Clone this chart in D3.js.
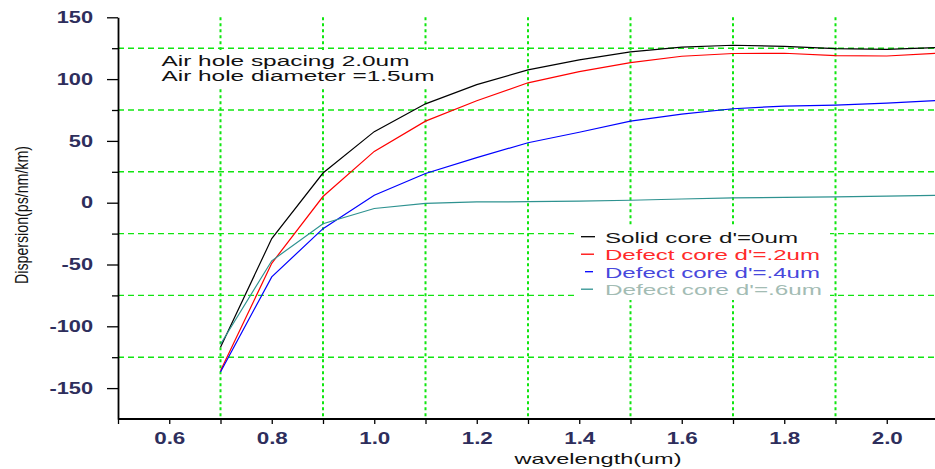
<!DOCTYPE html>
<html>
<head>
<meta charset="utf-8">
<script src="https://cdn.jsdelivr.net/npm/d3@7"></script>
<style>
  html, body { margin: 0; padding: 0; background: #fff; }
  svg { display: block; }
</style>
</head>
<body>
<svg id="chart" width="935" height="469"></svg>
<script>
// wavelength (um) sample points
const wavelength = [0.7, 0.8, 0.9, 1.0, 1.1, 1.2, 1.3, 1.4, 1.5, 1.6, 1.7, 1.8, 1.9, 2.0, 2.1];

// dispersion (ps/nm/km)
const solidCore = [-117, -29, 24, 57.5, 80, 95.5, 107.5, 115.5, 122, 125.8, 127.4, 126.5, 124.7, 124, 125.6];
const defect02  = [-136, -49, 5, 41.5, 66, 82.5, 97, 106, 113.4, 118.5, 120.7, 120.9, 119, 118.7, 121];
const defect04  = [-137, -60, -21, 6, 23.6, 36.5, 48.5, 57, 66, 71.6, 76, 78.2, 79, 80.5, 82.7];
const defect06  = [-114.5, -47, -17, -4.7, -0.5, 0.6, 0.8, 1.3, 2, 3, 3.9, 4.3, 4.7, 5.3, 6];

const seriesNames = ["Solid core d'=0um", "Defect core d'=.2um", "Defect core d'=.4um", "Defect core d'=.6um"];
const seriesValues = [solidCore, defect02, defect04, defect06];
const seriesColors = ['#000000', '#ff0000', '#0000ff', '#2e9290'];
const legendTextColors = ['#161616', '#ff2a2a', '#4848dc', '#a3bcb4'];

const xMajor = [0.6, 0.8, 1.0, 1.2, 1.4, 1.6, 1.8, 2.0];
const xAllTicks = [0.5, 0.6, 0.7, 0.8, 0.9, 1.0, 1.1, 1.2, 1.3, 1.4, 1.5, 1.6, 1.7, 1.8, 1.9, 2.0];
const xGrid = [0.7, 0.9, 1.1, 1.3, 1.5, 1.7, 1.9];
const yMajor = [-150, -100, -50, 0, 50, 100, 150];
const yGrid = [-125, -75, -25, 25, 75, 125];

const annotation = ['Air hole spacing 2.0um', 'Air hole diameter =1.5um'];

const svg = d3.select('#chart');
const x = d3.scaleLinear().domain([0.5, 2.1]).range([118, 938]);
const y = d3.scaleLinear().domain([-175, 150]).range([419, 17.3]);

const GREEN = '#10e610';
const LABEL = '#2e2e5c';

// grid
const grid = svg.append('g');
grid.selectAll('.vg').data(xGrid).enter().append('line')
  .attr('x1', d => x(d)).attr('x2', d => x(d))
  .attr('y1', y(150)).attr('y2', y(-175))
  .attr('stroke', GREEN).attr('stroke-width', 2).attr('stroke-dasharray', '3,3');
grid.selectAll('.hg').data(yGrid).enter().append('line')
  .attr('x1', x(0.5)).attr('x2', 935)
  .attr('y1', d => y(d)).attr('y2', d => y(d))
  .attr('stroke', GREEN).attr('stroke-width', 1.4).attr('stroke-dasharray', '6,4');

// curves
const line = d3.line()
  .x((d, i) => x(wavelength[i]))
  .y(d => y(d));
svg.append('g').selectAll('path')
  .data(seriesValues).enter().append('path')
  .attr('d', line)
  .attr('fill', 'none')
  .attr('stroke', (d, i) => seriesColors[i])
  .attr('stroke-width', 1.2);

// annotation box
const ann = svg.append('g');
ann.append('rect').attr('x', 155).attr('y', 50).attr('width', 285).attr('height', 38).attr('fill', '#fff');
const annWidths = [248, 273];
ann.selectAll('text').data(annotation).enter().append('text')
  .attr('x', 161.5)
  .attr('y', (d, i) => 65.7 + i * 15.4)
  .attr('textLength', (d, i) => annWidths[i])
  .attr('lengthAdjust', 'spacingAndGlyphs')
  .style('font-family', '"Liberation Sans", Arial, sans-serif')
  .style('font-size', '14px')
  .attr('fill', '#111')
  .text(d => d);

// legend
const leg = svg.append('g');
leg.append('rect').attr('x', 577).attr('y', 226).attr('width', 253).attr('height', 74).attr('fill', '#fff');
const legWidths = [193, 215, 215, 217];
const markerStart = [581, 581, 585, 581];
const markerEnd = [595, 594, 593, 593];
const rows = leg.selectAll('g').data(seriesNames).enter().append('g')
  .attr('transform', (d, i) => `translate(0,${242.7 + i * 17.5})`);
rows.append('line')
  .attr('x1', (d, i) => markerStart[i]).attr('x2', (d, i) => markerEnd[i])
  .attr('y1', -6).attr('y2', -6)
  .attr('stroke', (d, i) => seriesColors[i]).attr('stroke-width', 1.3);
rows.append('text')
  .attr('x', 605).attr('y', 0)
  .attr('textLength', (d, i) => legWidths[i])
  .attr('lengthAdjust', 'spacingAndGlyphs')
  .style('font-family', '"Liberation Sans", Arial, sans-serif')
  .style('font-size', '14px')
  .attr('fill', (d, i) => legendTextColors[i])
  .text(d => d);

// axes
function stretchLabels(sel, k) {
  sel.selectAll('text').each(function () {
    const w = this.getComputedTextLength();
    if (w > 0) d3.select(this).attr('textLength', w * k).attr('lengthAdjust', 'spacingAndGlyphs');
  });
}

const yAxis = svg.append('g').attr('transform', `translate(${x(0.5)},0)`)
  .call(d3.axisLeft(y).tickValues(yMajor).tickSize(11).tickSizeOuter(0).tickPadding(14)
    .tickFormat(d => String(d)));
const yMinor = svg.append('g').attr('transform', `translate(${x(0.5)},0)`)
  .call(d3.axisLeft(y).tickValues(yGrid).tickSize(6).tickSizeOuter(0).tickFormat(''));
yMinor.select('.domain').remove();

const xAxis = svg.append('g').attr('transform', `translate(0,${y(-175)})`)
  .call(d3.axisBottom(x).tickValues(xAllTicks).tickSize(5).tickSizeOuter(0).tickPadding(9)
    .tickFormat(d => xMajor.some(m => Math.abs(m - d) < 1e-6) ? d.toFixed(1) : ''));
xAxis.select('.domain').attr('d', `M${x(0.5)},0H935`);

[xAxis, yAxis, yMinor].forEach(a => {
  a.select('.domain').attr('stroke', '#000').attr('stroke-width', 1.8);
  a.selectAll('.tick line').attr('stroke', '#000').attr('stroke-width', 1.3);
  a.selectAll('text')
    .style('font-family', '"Liberation Sans", Arial, sans-serif')
    .style('font-size', '16px')
    .style('font-weight', 'bold')
    .attr('fill', LABEL);
});
stretchLabels(xAxis, 1.4);
stretchLabels(yAxis, 1.36);

// axis titles
svg.append('text')
  .attr('x', 598).attr('y', 464)
  .attr('text-anchor', 'middle')
  .attr('textLength', 167)
  .attr('lengthAdjust', 'spacingAndGlyphs')
  .style('font-family', '"Liberation Sans", Arial, sans-serif')
  .style('font-size', '15px')
  .attr('fill', '#111')
  .text('wavelength(um)');

svg.append('text')
  .attr('transform', 'translate(28,215) rotate(-90)')
  .attr('text-anchor', 'middle')
  .attr('textLength', 138)
  .attr('lengthAdjust', 'spacingAndGlyphs')
  .style('font-family', '"Liberation Sans", Arial, sans-serif')
  .style('font-size', '19px')
  .attr('fill', '#111')
  .text('Dispersion(ps/nm/km)');
</script>
</body>
</html>
